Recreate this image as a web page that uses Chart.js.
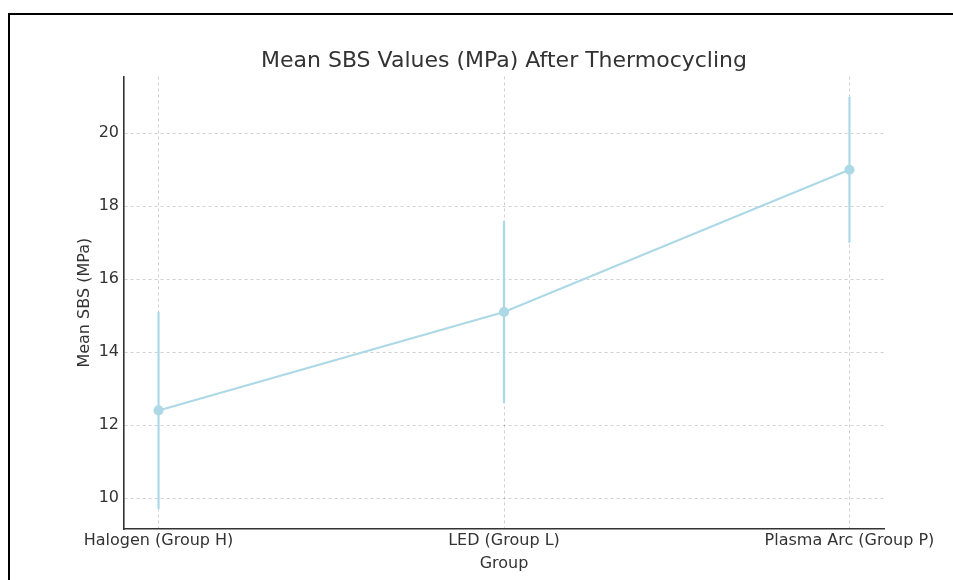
<!DOCTYPE html>
<html>
<head>
<meta charset="utf-8">
<script src="https://cdn.jsdelivr.net/npm/chart.js@4.4.1/dist/chart.umd.min.js"></script>
<style>
  html, body { margin: 0; padding: 0; background: #fff; }
  #wrap { position: relative; width: 953px; height: 580px; overflow: hidden; }
  #frame { position: absolute; left: 8px; top: 13px; width: 1000px; height: 700px;
           border-top: 2px solid #000; border-left: 2px solid #000; pointer-events: none; }
  canvas { position: absolute; left: 0; top: 0; }
</style>
</head>
<body>
<div id="wrap">
  <canvas id="sbs" width="953" height="580"></canvas>
  <div id="frame"></div>
</div>
<script>
// données
const groups = ['Halogen (Group H)', 'LED (Group L)', 'Plasma Arc (Group P)'];
const meanSBS = [12.4, 15.1, 19.0];
const sdSBS = [2.7, 2.5, 2.0];
const yTicks = [10, 12, 14, 16, 18, 20];

const lineColor = '#add8e6';
const textColor = '#333333';
const font = "'DejaVu Sans', sans-serif";

// barres d'erreur verticales, dessinées via les échelles
const errorBars = {
  id: 'errorBars',
  beforeDatasetsDraw(chart) {
    const { ctx, scales: { x, y } } = chart;
    ctx.save();
    ctx.strokeStyle = lineColor;
    ctx.lineWidth = 2.2;
    meanSBS.forEach((m, i) => {
      const px = x.getPixelForValue(i);
      ctx.beginPath();
      ctx.moveTo(px, y.getPixelForValue(m - sdSBS[i]));
      ctx.lineTo(px, y.getPixelForValue(m + sdSBS[i]));
      ctx.stroke();
    });
    ctx.restore();
  }
};

new Chart(document.getElementById('sbs'), {
  type: 'line',
  data: {
    datasets: [{
      label: 'Mean SBS',
      data: meanSBS.map((v, i) => ({ x: i, y: v })),
      borderColor: lineColor,
      backgroundColor: lineColor,
      borderWidth: 2.2,
      pointRadius: 4,
      pointHoverRadius: 4,
      tension: 0
    }]
  },
  options: {
    responsive: false,
    animation: false,
    events: [],
    layout: { padding: { left: 70, right: 69, top: 40, bottom: 0 } },
    plugins: {
      legend: { display: false },
      tooltip: { enabled: false },
      title: {
        display: true,
        fullSize: false,
        text: 'Mean SBS Values (MPa) After Thermocycling',
        color: textColor,
        font: { family: font, size: 22, weight: 'normal' },
        padding: { top: 8, bottom: 2 }
      }
    },
    scales: {
      x: {
        type: 'linear',
        min: -0.1,
        max: 2.1,
        afterBuildTicks: s => { s.ticks = groups.map((g, i) => ({ value: i })); },
        afterFit: s => { s.height = 51; },
        ticks: {
          color: textColor,
          font: { family: font, size: 16 },
          padding: 2,
          maxRotation: 0,
          autoSkip: false,
          callback: v => groups[v]
        },
        grid: { color: 'rgba(0,0,0,0.18)', drawTicks: false, lineWidth: 1 },
        border: { display: true, color: '#333', width: 1.6, dash: [3, 3] },
        title: {
          display: true,
          text: 'Group',
          color: textColor,
          font: { family: font, size: 16 },
          padding: { top: 0, bottom: 7 }
        }
      },
      y: {
        min: 9.15,
        max: 21.56,
        afterBuildTicks: s => { s.ticks = yTicks.map(v => ({ value: v })); },
        afterFit: s => { s.width = 54; },
        ticks: {
          color: textColor,
          font: { family: font, size: 16 },
          padding: 5
        },
        grid: { color: 'rgba(0,0,0,0.18)', drawTicks: false, lineWidth: 1 },
        border: { display: true, color: '#333', width: 1.6, dash: [3, 3] },
        title: {
          display: true,
          text: 'Mean SBS (MPa)',
          color: textColor,
          font: { family: font, size: 16 },
          padding: { top: 5, bottom: 0 }
        }
      }
    }
  },
  plugins: [errorBars]
});
</script>
</body>
</html>
